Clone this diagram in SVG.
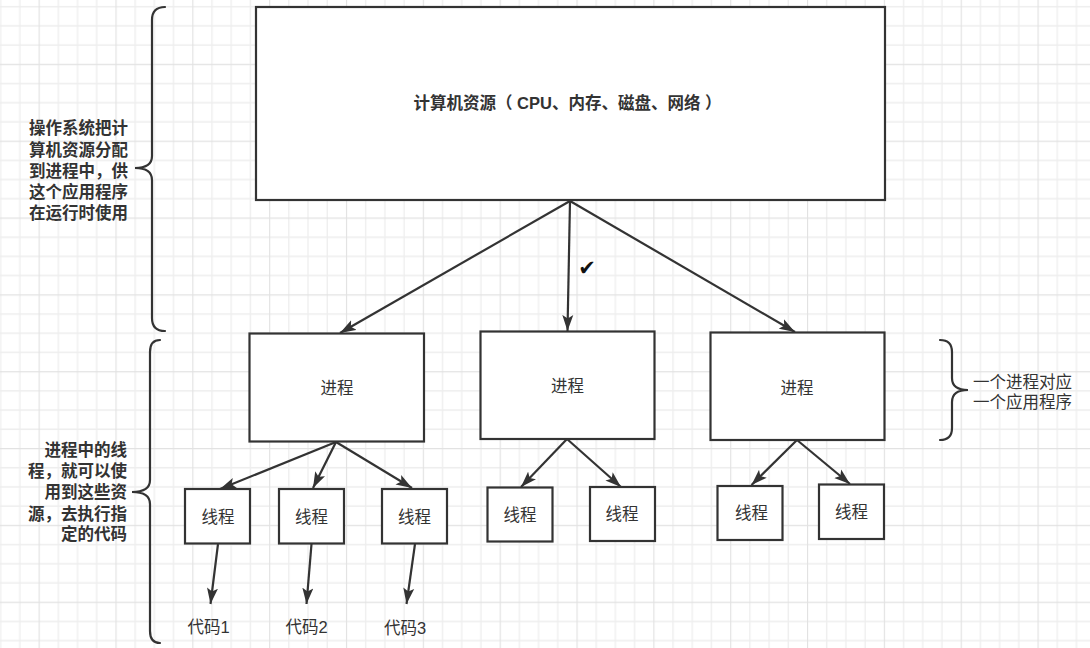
<svg xmlns="http://www.w3.org/2000/svg" width="1090" height="648" viewBox="0 0 1090 648">
<style>
.box{fill:#fff;stroke:#333;stroke-width:2.2}
.edge{fill:none;stroke:#333;stroke-width:2.2}
.brace{fill:none;stroke:#333;stroke-width:2.2;stroke-linecap:round}
.t{font-family:"Liberation Sans","Noto Sans CJK SC",sans-serif;font-size:16.5px;fill:#333}
.b{font-weight:bold}
.c{text-anchor:middle;dominant-baseline:central}
.r{text-anchor:end;dominant-baseline:central}
.l{text-anchor:start;dominant-baseline:central}
</style>
<defs>
<pattern id="grid" patternUnits="userSpaceOnUse" x="38.6" y="63.8" width="76.84" height="76.84">
<path d="M19.71,0V76.84M38.92,0V76.84M58.13,0V76.84M0,19.71H76.84M0,38.92H76.84M0,58.13H76.84" stroke="#eeeeee" stroke-width="1.3" fill="none"/>
<path d="M0.5,0V76.84M0,0.5H76.84" stroke="#e2e2e2" stroke-width="1.3" fill="none"/>
</pattern>
<marker id="arr" markerUnits="userSpaceOnUse" markerWidth="18" markerHeight="12" refX="16" refY="6" orient="auto">
<path d="M0,0.5 L16,6 L0,11.5 L3.5,6 Z" fill="#333"/>
</marker>
</defs>
<rect width="1090" height="648" fill="#fff"/>
<rect width="1090" height="648" fill="url(#grid)"/>

<g id="connectors">
<line class="edge" x1="570" y1="201" x2="340" y2="333" marker-end="url(#arr)"/>
<line class="edge" x1="570" y1="201" x2="567.5" y2="331" marker-end="url(#arr)"/>
<line class="edge" x1="570" y1="201" x2="795" y2="332" marker-end="url(#arr)"/>
<line class="edge" x1="336" y1="442" x2="220" y2="489" marker-end="url(#arr)"/>
<line class="edge" x1="336" y1="442" x2="313" y2="488" marker-end="url(#arr)"/>
<line class="edge" x1="336" y1="442" x2="412" y2="488" marker-end="url(#arr)"/>
<line class="edge" x1="567" y1="439" x2="521" y2="487" marker-end="url(#arr)"/>
<line class="edge" x1="567" y1="439" x2="621" y2="487" marker-end="url(#arr)"/>
<line class="edge" x1="797" y1="440" x2="751.5" y2="485" marker-end="url(#arr)"/>
<line class="edge" x1="797" y1="440" x2="850" y2="484" marker-end="url(#arr)"/>
<line class="edge" x1="218" y1="544" x2="210.5" y2="604" marker-end="url(#arr)"/>
<line class="edge" x1="311.5" y1="544" x2="306.5" y2="604" marker-end="url(#arr)"/>
<line class="edge" x1="415" y1="544" x2="406.5" y2="604" marker-end="url(#arr)"/>
<text class="t c" x="587" y="268" style="font-family:'DejaVu Sans',sans-serif;font-size:21px;fill:#111">✔</text>
</g>

<g id="resources">
<rect class="box" x="256" y="7" width="629" height="193"/>
<text class="t b c" x="567.5" y="103">计算机资源（ CPU、内存、磁盘、网络 ）</text>
</g>

<g id="process1">
<rect class="box" x="249.5" y="333.5" width="174.5" height="108"/>
<text class="t c" x="337" y="388">进程</text>
</g>
<g id="process2">
<rect class="box" x="480.5" y="331.5" width="174" height="107.5"/>
<text class="t c" x="567.5" y="385.5">进程</text>
</g>
<g id="process3">
<rect class="box" x="710.5" y="332.5" width="174" height="107.5"/>
<text class="t c" x="797" y="388">进程</text>
</g>

<g id="thread1">
<rect class="box" x="185" y="489" width="65" height="54.5"/>
<text class="t c" x="218" y="517">线程</text>
</g>
<g id="thread2">
<rect class="box" x="279" y="489" width="65" height="54.5"/>
<text class="t c" x="311.5" y="517">线程</text>
</g>
<g id="thread3">
<rect class="box" x="382" y="489" width="65" height="54.5"/>
<text class="t c" x="414.5" y="517">线程</text>
</g>
<g id="thread4">
<rect class="box" x="487.5" y="487.5" width="65" height="54"/>
<text class="t c" x="520" y="515">线程</text>
</g>
<g id="thread5">
<rect class="box" x="590" y="487" width="65" height="54"/>
<text class="t c" x="622" y="514">线程</text>
</g>
<g id="thread6">
<rect class="box" x="717.5" y="486" width="65" height="54"/>
<text class="t c" x="751.5" y="513">线程</text>
</g>
<g id="thread7">
<rect class="box" x="819" y="484.5" width="65" height="54.5"/>
<text class="t c" x="851.5" y="512">线程</text>
</g>

<g id="code1"><text class="t c" x="208.5" y="627">代码1</text></g>
<g id="code2"><text class="t c" x="306.5" y="627">代码2</text></g>
<g id="code3"><text class="t c" x="405" y="627.5">代码3</text></g>

<g id="brace1">
<path class="brace" d="M165,7 Q152,7 152,20 L152,156 Q152,168 135,168 Q152,168 152,180 L152,318 Q152,331 165,331"/>
<text class="t b r"><tspan x="128" y="128">操作系统把计</tspan><tspan x="128" y="150">算机资源分配</tspan><tspan x="128" y="171">到进程中，供</tspan><tspan x="128" y="192">这个应用程序</tspan><tspan x="128" y="213">在运行时使用</tspan></text>
</g>

<g id="brace2">
<path class="brace" d="M160,340 Q150,340 150,352 L150,480 Q150,492 132,492 Q150,492 150,504 L150,631 Q150,643 160,643"/>
<text class="t b r"><tspan x="127" y="450">进程中的线</tspan><tspan x="127" y="471">程，就可以使</tspan><tspan x="127" y="492">用到这些资</tspan><tspan x="127" y="514">源，去执行指</tspan><tspan x="127" y="534">定的代码</tspan></text>
</g>

<g id="brace3">
<path class="brace" d="M940,340 Q952,340 952,352 L952,378 Q952,390 968,390 Q952,390 952,402 L952,428 Q952,440 940,440"/>
<text class="t l"><tspan x="973" y="382">一个进程对应</tspan><tspan x="973" y="402">一个应用程序</tspan></text>
</g>
</svg>
